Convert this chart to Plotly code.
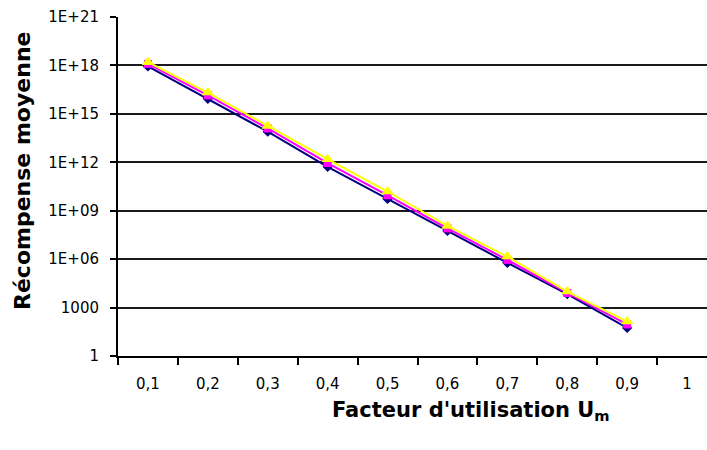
import plotly.graph_objects as go

x_vals = [0.1, 0.2, 0.3, 0.4, 0.5, 0.6, 0.7, 0.8, 0.9]
series_navy = [8.7e17, 8.5e15, 7.9e13, 5.2e11, 5.4e9, 5.6e7, 5.9e5, 6.9e3, 55]
series_magenta = [1.25e18, 1.4e16, 1.25e14, 9.0e11, 9.0e9, 8.0e7, 9.0e5, 8.0e3, 90]
series_yellow = [1.6e18, 2.1e16, 1.8e14, 1.55e12, 1.55e10, 1.15e8, 1.45e6, 9.8e3, 135]

x_tick_vals = [0.1, 0.2, 0.3, 0.4, 0.5, 0.6, 0.7, 0.8, 0.9, 1.0]
x_tick_text = ["0,1", "0,2", "0,3", "0,4", "0,5", "0,6", "0,7", "0,8", "0,9", "1"]
x_boundaries = [0.05, 0.15, 0.25, 0.35, 0.45, 0.55, 0.65, 0.75, 0.85, 0.95, 1.05]
y_tick_vals = [1, 1e3, 1e6, 1e9, 1e12, 1e15, 1e18, 1e21]
y_tick_text = ["1", "1000", "1E+06", "1E+09", "1E+12", "1E+15", "1E+18", "1E+21"]

FONT = "DejaVu Sans"

fig = go.Figure()
fig.add_trace(go.Scatter(x=x_vals, y=series_navy, mode="lines+markers",
                         line=dict(color="#000080", width=2),
                         marker=dict(symbol="diamond", size=8, color="#000080")))
fig.add_trace(go.Scatter(x=x_vals, y=series_magenta, mode="lines+markers",
                         line=dict(color="#FF00FF", width=2),
                         marker=dict(symbol="square", size=8, color="#FF00FF")))
fig.add_trace(go.Scatter(x=x_vals, y=series_yellow, mode="lines+markers",
                         line=dict(color="#FFFF00", width=2),
                         marker=dict(symbol="triangle-up", size=11, color="#FFFF00")))

fig.update_layout(
    width=707, height=450,
    margin=dict(l=118, r=0, t=17, b=94),
    paper_bgcolor="white", plot_bgcolor="white",
    showlegend=False,
    font=dict(family=FONT, size=15, color="black"),
    xaxis=dict(
        type="linear", range=[0.05, 0.05 + 589 / 599],
        tickvals=x_tick_vals, ticktext=x_tick_text,
        ticks="", showgrid=False, zeroline=False,
        showline=True, linecolor="black", linewidth=2,
        tickfont=dict(family=FONT, size=15, color="black"),
        ticklabelstandoff=13,
        minor=dict(tickvals=x_boundaries, ticks="outside", ticklen=7,
                   tickcolor="black", tickwidth=2, showgrid=False),
    ),
    yaxis=dict(
        type="log", range=[0, 21],
        tickvals=y_tick_vals, ticktext=y_tick_text,
        ticks="outside", ticklen=6, tickcolor="black", tickwidth=2,
        showgrid=True, gridcolor="#1a1a1a", gridwidth=1.6,
        zeroline=False, showline=True, linecolor="black", linewidth=2,
        tickfont=dict(family=FONT, size=15, color="black"),
        ticklabelstandoff=8,
    ),
    annotations=[
        dict(text="<b>Facteur d'utilisation U<sub>m</sub></b>", xref="paper", yref="paper",
             x=(471 - 118) / 589, y=-(411 - 356) / 339, xanchor="center", yanchor="middle",
             showarrow=False, font=dict(family=FONT, size=21, color="black")),
        dict(text="<b>Récompense moyenne</b>", xref="paper", yref="paper",
             x=-(118 - 22) / 589, y=(356 - 171) / 339, xanchor="center", yanchor="middle",
             textangle=-90, showarrow=False, font=dict(family=FONT, size=22, color="black")),
    ],
)

fig.write_html("out.html")
